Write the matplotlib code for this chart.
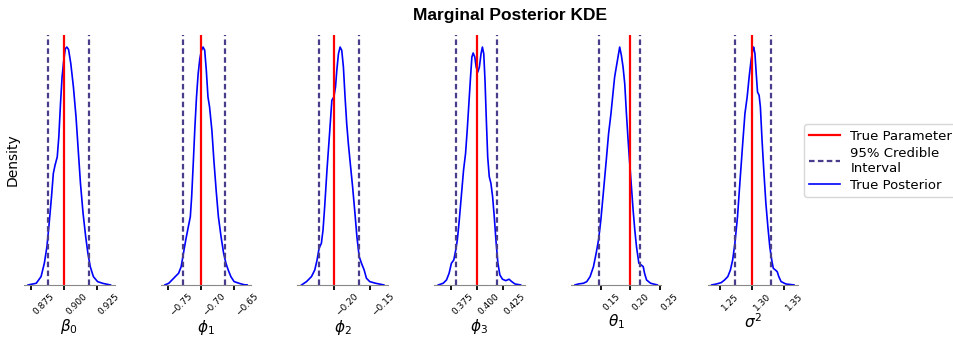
import matplotlib
matplotlib.use("Agg")
import matplotlib.pyplot as plt
from matplotlib.lines import Line2D

# parameter names, true values and 95% credible intervals
param_labels = [r"$\beta_0$", r"$\phi_1$", r"$\phi_2$", r"$\phi_3$", r"$\theta_1$", r"$\sigma^2$"]
true_values = [0.900, -0.700, -0.200, 0.400, 0.200, 1.300]
ci_lower = [0.8874, -0.7264, -0.2206, 0.3804, 0.1451, 1.2737]
ci_upper = [0.9191, -0.6638, -0.1647, 0.4193, 0.2156, 1.3303]
tick_values = [
    [0.875, 0.900, 0.925],
    [-0.75, -0.70, -0.65],
    [-0.20, -0.15],
    [0.375, 0.400, 0.425],
    [0.15, 0.20, 0.25],
    [1.25, 1.30, 1.35],
]

# KDE curves (density scaled so the peak is 1)
beta0_x = [0.8725, 0.8787, 0.8824, 0.8849, 0.8869, 0.8886, 0.8904, 0.8918, 0.8931, 0.8948,
           0.8960, 0.8973, 0.8985, 0.8998, 0.9010, 0.9022, 0.9035, 0.9052, 0.9072, 0.9092,
           0.9109, 0.9126, 0.9146, 0.9166, 0.9183, 0.9201, 0.9225, 0.9257, 0.9295, 0.9319, 0.9356]
beta0_y = [0.0, 0.007, 0.035, 0.091, 0.161, 0.259, 0.371, 0.469, 0.503, 0.538,
           0.622, 0.762, 0.874, 0.944, 0.993, 1.0, 0.989, 0.930, 0.832, 0.706,
           0.566, 0.427, 0.301, 0.203, 0.133, 0.077, 0.035, 0.014, 0.007, 0.004, 0.0]

phi1_x = [-0.7544, -0.7485, -0.7436, -0.7387, -0.7337, -0.7298, -0.7264, -0.7229, -0.7190, -0.7160,
          -0.7140, -0.7116, -0.7091, -0.7067, -0.7042, -0.7017, -0.6993, -0.6968, -0.6943, -0.6919,
          -0.6894, -0.6870, -0.6835, -0.6805, -0.6771, -0.6737, -0.6697, -0.6658, -0.6623, -0.6589,
          -0.6549, -0.6500, -0.6426, -0.6352, -0.6303]
phi1_y = [0.0, 0.007, 0.021, 0.035, 0.049, 0.077, 0.133, 0.189, 0.245, 0.287,
          0.371, 0.510, 0.664, 0.790, 0.888, 0.951, 0.986, 1.0, 0.986, 0.902,
          0.790, 0.748, 0.650, 0.524, 0.399, 0.287, 0.203, 0.133, 0.091, 0.063,
          0.035, 0.014, 0.007, 0.001, 0.0]

phi2_x = [-0.2450, -0.2381, -0.2312, -0.2266, -0.2234, -0.2206, -0.2174, -0.2151, -0.2128, -0.2096,
          -0.2060, -0.2028, -0.2000, -0.1977, -0.1959, -0.1936, -0.1913, -0.1890, -0.1867, -0.1844,
          -0.1821, -0.1798, -0.1771, -0.1739, -0.1706, -0.1679, -0.1647, -0.1615, -0.1578, -0.1546,
          -0.1500, -0.1418, -0.1303]
phi2_y = [0.0, 0.014, 0.035, 0.063, 0.105, 0.154, 0.175, 0.231, 0.329, 0.483,
          0.636, 0.776, 0.790, 0.832, 0.902, 0.972, 1.0, 0.986, 0.916, 0.790,
          0.678, 0.594, 0.510, 0.413, 0.301, 0.203, 0.119, 0.091, 0.063, 0.028,
          0.014, 0.007, 0.0]

phi3_x = [0.3630, 0.3677, 0.3709, 0.3734, 0.3756, 0.3779, 0.3798, 0.3813, 0.3829, 0.3851,
          0.3873, 0.3892, 0.3908, 0.3924, 0.3940, 0.3953, 0.3965, 0.3981, 0.3994, 0.4010,
          0.4025, 0.4041, 0.4054, 0.4067, 0.4079, 0.4092, 0.4105, 0.4120, 0.4136, 0.4152,
          0.4168, 0.4184, 0.4203, 0.4222, 0.4247, 0.4279, 0.4310, 0.4336, 0.4367, 0.4421]
phi3_y = [0.0, 0.007, 0.021, 0.049, 0.091, 0.105, 0.147, 0.189, 0.259, 0.371,
          0.483, 0.552, 0.650, 0.762, 0.874, 0.958, 0.975, 0.958, 0.916, 0.895,
          0.916, 0.972, 1.0, 0.972, 0.860, 0.692, 0.538, 0.455, 0.427, 0.371,
          0.287, 0.189, 0.091, 0.042, 0.024, 0.018, 0.024, 0.014, 0.004, 0.0]

theta1_x = [0.1046, 0.1104, 0.1191, 0.1249, 0.1306, 0.1364, 0.1410, 0.1451, 0.1491, 0.1538,
            0.1584, 0.1624, 0.1665, 0.1699, 0.1728, 0.1757, 0.1786, 0.1815, 0.1844, 0.1873,
            0.1902, 0.1931, 0.1960, 0.1988, 0.2017, 0.2046, 0.2075, 0.2104, 0.2145, 0.2185,
            0.2220, 0.2243, 0.2277, 0.2347, 0.2462]
theta1_y = [0.0, 0.004, 0.007, 0.014, 0.035, 0.077, 0.133, 0.189, 0.273, 0.399,
            0.524, 0.636, 0.720, 0.804, 0.874, 0.916, 0.958, 1.0, 0.965, 0.916,
            0.846, 0.720, 0.608, 0.510, 0.413, 0.315, 0.231, 0.161, 0.091, 0.084,
            0.077, 0.049, 0.021, 0.007, 0.0]

sigma2_x = [1.2369, 1.2445, 1.2520, 1.2571, 1.2621, 1.2662, 1.2697, 1.2732, 1.2773, 1.2813,
            1.2854, 1.2889, 1.2924, 1.2955, 1.2985, 1.3010, 1.3025, 1.3046, 1.3066, 1.3086,
            1.3111, 1.3131, 1.3157, 1.3187, 1.3217, 1.3248, 1.3278, 1.3308, 1.3333, 1.3364,
            1.3394, 1.3419, 1.3455, 1.3530, 1.3657]
sigma2_y = [0.0, 0.004, 0.010, 0.021, 0.035, 0.063, 0.105, 0.175, 0.287, 0.441,
            0.594, 0.720, 0.790, 0.874, 0.944, 0.986, 1.0, 0.972, 0.888, 0.811,
            0.797, 0.748, 0.608, 0.469, 0.343, 0.245, 0.161, 0.105, 0.070, 0.063,
            0.056, 0.035, 0.014, 0.004, 0.0]

curves = [(beta0_x, beta0_y), (phi1_x, phi1_y), (phi2_x, phi2_y),
          (phi3_x, phi3_y), (theta1_x, theta1_y), (sigma2_x, sigma2_y)]

CI_COLOR = "darkslateblue"
CI_DASH = (0, (2.5, 1.5))

fig, axes = plt.subplots(1, 6, figsize=(9.54, 3.38), dpi=100)
fig.subplots_adjust(left=0.0252, right=0.8366, bottom=0.157, top=0.896, wspace=0.51)

for i, ax in enumerate(axes):
    xs, ys = curves[i]
    ax.plot(xs, ys, color="blue", linewidth=1.2)
    ax.axvline(true_values[i], color="red", linewidth=1.6)
    ax.axvline(ci_lower[i], color=CI_COLOR, linestyle=CI_DASH, linewidth=1.6)
    ax.axvline(ci_upper[i], color=CI_COLOR, linestyle=CI_DASH, linewidth=1.6)
    ax.set_ylim(0, 1.05)
    ax.set_xticks(tick_values[i])
    ax.tick_params(axis="x", labelsize=6.5, rotation=45, length=3.5, width=1.3, pad=1.5)
    for lbl in ax.get_xticklabels():
        lbl.set_horizontalalignment("left")
    ax.set_yticks([])
    for side in ("top", "right", "left"):
        ax.spines[side].set_visible(False)
    ax.spines["bottom"].set_color("#888888")
    ax.set_xlabel(param_labels[i], fontsize=11, labelpad=0)

axes[0].set_ylabel("Density", fontsize=10, labelpad=3)

fig.suptitle("Marginal Posterior KDE", fontsize=12.5, fontweight="bold",
             family="Liberation Sans", x=0.535, y=0.975)

handles = [
    Line2D([], [], color="red", linewidth=1.6),
    Line2D([], [], color=CI_COLOR, linestyle=CI_DASH, linewidth=1.6),
    Line2D([], [], color="blue", linewidth=1.2),
]
fig.legend(handles, ["True Parameter", "95% Credible\nInterval", "True Posterior"],
           loc="center left", bbox_to_anchor=(0.843, 0.525), borderaxespad=0,
           fontsize=9.5, frameon=True, handlelength=2.3, labelspacing=0.3, borderpad=0.4)

plt.savefig("out.png", dpi=100)
plt.close()
